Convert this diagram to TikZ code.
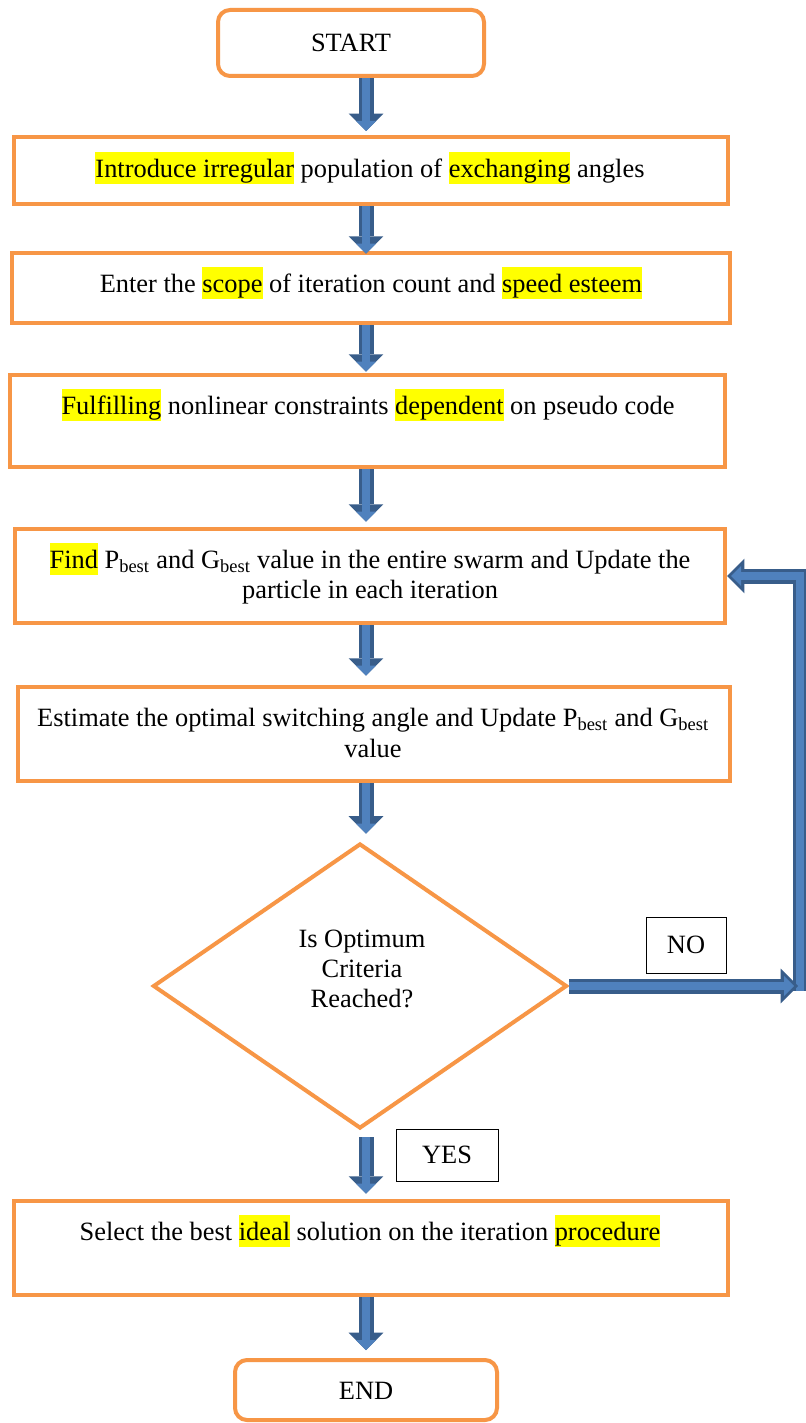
\documentclass[tikz,border=0pt]{standalone}
\usepackage{fontspec}
\setmainfont{Liberation Serif}
\usetikzlibrary{shapes.geometric,arrows.meta}
\definecolor{borange}{HTML}{F79646}
\definecolor{adark}{HTML}{385D8A}
\definecolor{alight}{HTML}{4F81BD}
\definecolor{hlyellow}{HTML}{FFFF00}
\newcommand{\hl}[1]{{\setlength{\fboxsep}{0pt}\colorbox{hlyellow}{\rule[-4.8pt]{0pt}{23.6pt}#1}}}
\newcommand{\barrow}[2][]{\draw[bout,#1] #2; \draw[bin,#1] #2;}
\tikzset{
  box/.style={draw=borange, line width=3pt, fill=white, rectangle, inner sep=0pt},
  term/.style={box, rounded corners=9pt},
  dec/.style={draw=borange, line width=3pt, fill=white, diamond, inner sep=0pt, aspect=1.45},
  txt/.style={inner sep=0pt, align=center, font=\fontsize{19.8pt}{22.8pt}\selectfont},
  lbl/.style={draw=black, line width=0.75pt, fill=white, inner sep=0pt, font=\fontsize{19.8pt}{22.8pt}\selectfont},
  bout/.style={draw=adark, line width=11.25pt, line join=miter,
    -{Triangle[width=26pt,length=13pt,line width=0pt]}},
  bin/.style={draw=alight, line width=5.5pt, line join=miter,
    -{Triangle[width=15pt,length=7.5pt,line width=0pt]}, shorten >=3pt},
}
\begin{document}
\begin{tikzpicture}[x=0.75pt,y=-0.75pt]
\useasboundingbox[fill=white] (0,0) rectangle (806,1423);
% nodes
\node[term, minimum width=199.5pt, minimum height=49.5pt] (start) at (351,43) {};
\node[txt] (tstart) at (351,43) {START};
\node[box, minimum width=535.5pt, minimum height=50.25pt] (b1) at (371,170.5) {};
\node[txt] (t1) at (370,168) {\hl{Introduce irregular} population of \hl{exchanging} angles};
\node[box, minimum width=538.5pt, minimum height=52.5pt] (b2) at (371,288) {};
\node[txt] (t2) at (371,283) {Enter the \hl{scope} of iteration count and \hl{speed esteem}};
\node[box, minimum width=536.25pt, minimum height=69pt] (b3) at (367.5,421) {};
\node[txt] (t3) at (368,405) {\hl{Fulfilling} nonlinear constraints \hl{dependent} on pseudo code};
\node[box, minimum width=532.5pt, minimum height=70.5pt] (b4) at (370,576) {};
\node[txt] (t4) at (370,574) {\hl{Find} P\textsubscript{best} and G\textsubscript{best} value in the entire swarm and Update the\\ particle in each iteration};
\node[box, minimum width=534pt, minimum height=70.5pt] (b5) at (374,734) {};
\node[txt] (t5) at (373,733) {Estimate the optimal switching angle and Update P\textsubscript{best} and G\textsubscript{best}\\ value};
\node[dec, minimum width=310.5pt, minimum height=213.75pt] (dia) at (360,986) {};
\node[txt] (tdia) at (362,969) {Is Optimum\\ Criteria\\ Reached?};
\node[lbl, minimum width=60pt, minimum height=42pt] (no) at (686,945) {NO};
\node[lbl, minimum width=76.5pt, minimum height=39pt] (yes) at (447,1155) {YES};
\node[box, minimum width=535.5pt, minimum height=70.5pt] (b6) at (371,1248) {};
\node[txt] (t6) at (370,1231) {Select the best \hl{ideal} solution on the iteration \hl{procedure}};
\node[term, minimum width=196.5pt, minimum height=45pt] (end) at (366,1390) {};
\node[txt] (tend) at (366,1391) {END};
% helper coordinates
\coordinate (ax) at (366,0);
\coordinate (noend) at (798,986);
\coordinate (fbbot) at (800,991);
% arrows
\barrow[shorten >=3pt]{(start.south -| ax) -- (b1.north -| ax)}
\barrow[shorten >=-2pt]{(b1.south -| ax) -- (b2.north -| ax)}
\barrow[shorten >=1pt]{(b2.south -| ax) -- (b3.north -| ax)}
\barrow[shorten >=4pt]{(b3.south -| ax) -- (b4.north -| ax)}
\barrow[shorten >=7pt]{(b4.south -| ax) -- (b5.north -| ax)}
\barrow[shorten >=6pt]{(b5.south -| ax) -- (dia.north -| ax)}
\barrow[shorten <=5pt, shorten >=4pt]{(dia.south -| ax) -- (b6.north -| ax)}
\barrow[shorten >=6pt]{(b6.south -| ax) -- (end.north -| ax)}
\barrow{(fbbot) |- (b4.east)}
\barrow{(dia.east) -- (noend)}
\end{tikzpicture}
\end{document}
